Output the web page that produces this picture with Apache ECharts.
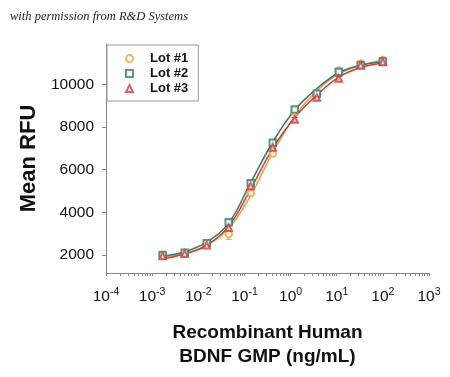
<!DOCTYPE html>
<html><head><meta charset="utf-8">
<script src="https://cdn.jsdelivr.net/npm/echarts@6/dist/echarts.min.js"></script>
<style>html,body{margin:0;padding:0;background:#fff}#c{width:450px;height:377px}</style>
</head><body><div id="c"></div>
<script>
// Concentrations (ng/mL), 3-fold dilution series
const conc = [0.00169, 0.00508, 0.0152, 0.0457, 0.137, 0.412, 1.23, 3.70, 11.1, 33.3, 100];
const seriesNames = ['Lot #1', 'Lot #2', 'Lot #3'];
// Measured points (Mean RFU)
const lot1 = [2000, 2100, 2500, 2980, 4890, 6760, 8710, 9550, 10660, 10980, 11150];
const lot2 = [2000, 2100, 2550, 3530, 5360, 7260, 8820, 9570, 10590, 10900, 11080];
const lot3 = [1950, 2050, 2450, 3280, 5230, 7040, 8350, 9390, 10280, 10900, 11050];
// Error (± RFU)
const err1 = [60, 60, 80, 250, 120, 120, 100, 100, 80, 80, 60];
const err2 = [60, 60, 60, 100, 100, 100, 100, 100, 80, 80, 60];
const err3 = [60, 60, 80, 120, 100, 100, 100, 120, 100, 80, 60];
// Fitted curves
const fit1 = [1890, 2080, 2450, 3250, 4800, 6800, 8500, 9700, 10500, 10900, 11150];
const fit2 = [1950, 2150, 2600, 3500, 5400, 7300, 8800, 9800, 10550, 10900, 11050];
const fit3 = [1800, 2050, 2450, 3350, 5100, 7000, 8450, 9500, 10350, 10800, 11000];
const yTicks = [2000, 4000, 6000, 8000, 10000];
const xDecades = [1e-4, 1e-3, 1e-2, 1e-1, 1, 10, 100, 1000];

const colors = ['#E8A23A', '#2A7F72', '#E23434'];
const symbols = ['emptyCircle', 'emptyRect', 'emptyTriangle'];
const pts = [lot1, lot2, lot3];
const errs = [err1, err2, err3];
const fits = [fit1, fit2, fit3];

const minorTicks = [];
for (let d = -4; d < 3; d++) for (let k = 1; k <= 9; k++) minorTicks.push(Number((k * Math.pow(10, d)).toPrecision(3)));
minorTicks.push(1000);

const series = [];
for (let i = 0; i < 3; i++) {
  series.push({
    type: 'line', name: 'fit' + i, data: conc.map((c, j) => [c, fits[i][j]]),
    smooth: 0.4, showSymbol: false, symbol: 'none',
    lineStyle: { color: colors[i], width: 1.5 }, z: 2, silent: true
  });
  series.push({
    type: 'custom', name: 'err' + i,
    data: conc.map((c, j) => [c, pts[i][j] - errs[i][j], pts[i][j] + errs[i][j]]),
    renderItem: function (params, api) {
      const lo = api.coord([api.value(0), api.value(1)]);
      const hi = api.coord([api.value(0), api.value(2)]);
      return { type: 'group', children: [
        { type: 'line', shape: { x1: lo[0], y1: lo[1], x2: hi[0], y2: hi[1] }, style: { stroke: colors[i], lineWidth: 1 } },
        { type: 'line', shape: { x1: lo[0] - 3, y1: lo[1], x2: lo[0] + 3, y2: lo[1] }, style: { stroke: colors[i], lineWidth: 1 } },
        { type: 'line', shape: { x1: hi[0] - 3, y1: hi[1], x2: hi[0] + 3, y2: hi[1] }, style: { stroke: colors[i], lineWidth: 1 } }
      ] };
    }, z: 3, silent: true
  });
  series.push({
    type: 'scatter', name: seriesNames[i], data: conc.map((c, j) => [c, pts[i][j]]),
    symbol: symbols[i], symbolSize: 6.5,
    itemStyle: { color: colors[i], borderColor: colors[i], borderWidth: 1.2 }, z: 4
  });
}

const chart = echarts.init(document.getElementById('c'), null, { renderer: 'canvas' });
chart.setOption({
  animation: false,
  backgroundColor: '#fff',
  graphic: [{ type: 'text', left: 10, top: 10,
    style: { text: 'with permission from R&D Systems', font: 'italic 12.5px "Liberation Serif", "DejaVu Serif", serif', fill: '#222' } }],
  grid: { left: 106, right: 21, top: 44, bottom: 104 },
  legend: {
    data: seriesNames, orient: 'vertical', left: 107, top: 45,
    padding: [7, 10, 6, 18], itemGap: 2, itemWidth: 7, itemHeight: 7,
    borderColor: '#999', borderWidth: 1, backgroundColor: '#fff',
    textStyle: { fontFamily: 'Liberation Sans, Arial', fontWeight: 'bold', fontSize: 13, color: '#111', padding: [0, 0, 0, 12] }
  },
  xAxis: {
    type: 'log', logBase: 10, min: 1e-4, max: 1e3,
    name: 'Recombinant Human\nBDNF GMP (ng/mL)', nameLocation: 'middle', nameGap: 48,
    nameTextStyle: { fontFamily: 'Liberation Sans, Arial', fontWeight: 'bold', fontSize: 19, color: '#111', lineHeight: 24 },
    axisLine: { lineStyle: { color: '#888' } },
    axisTick: { show: true, inside: false, length: 3, customValues: minorTicks, lineStyle: { color: '#888' } },
    axisLabel: {
      customValues: xDecades, margin: 14,
      formatter: function (v) { const e = Math.round(Math.log10(v)); return '{b|10}{s|' + e + '}'; },
      rich: {
        b: { fontFamily: 'Liberation Sans, Arial', fontSize: 15.5, color: '#111' },
        s: { fontFamily: 'Liberation Sans, Arial', fontSize: 10.5, color: '#111', padding: [0, 0, 9, 0] }
      }
    },
    splitLine: { show: false }
  },
  yAxis: {
    type: 'value', min: 1150, max: 11900,
    name: 'Mean RFU', nameLocation: 'middle', nameGap: 64,
    nameTextStyle: { fontFamily: 'Liberation Sans, Arial', fontWeight: 'bold', fontSize: 22, color: '#111' },
    axisLine: { show: true, lineStyle: { color: '#888' } },
    axisTick: { show: true, length: 4, customValues: yTicks, lineStyle: { color: '#888' } },
    axisLabel: { customValues: yTicks, margin: 12, fontFamily: 'Liberation Sans, Arial', fontSize: 15.5, color: '#111',
      formatter: function (v) { return String(v); } },
    splitLine: { show: false }
  },
  series: series
});
</script></body></html>
